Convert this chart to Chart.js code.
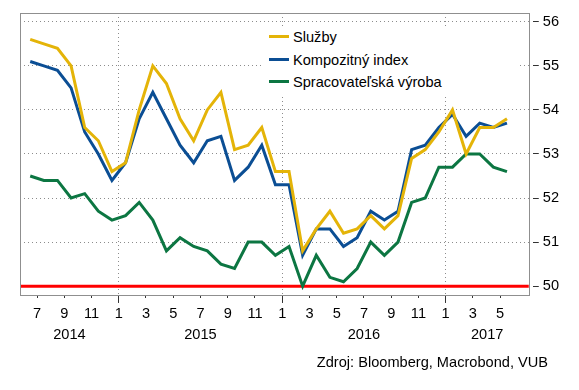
<!DOCTYPE html>
<html>
<head>
<meta charset="utf-8">
<script src="https://cdn.jsdelivr.net/npm/chart.js@4.4.1/dist/chart.umd.min.js"></script>
<style>
  html, body { margin: 0; padding: 0; background: #fff; }
  #wrap { position: relative; width: 579px; height: 390px; font-family: "Liberation Sans", Arial, sans-serif; color: #000; }
  #legend { position: absolute; left: 262px; top: 27px; width: 258px; height: 70px; background: #fff; }
  #legend .item { position: absolute; left: 31px; font-size: 14.6px; line-height: 16px; white-space: nowrap; }
  #legend .sw { position: absolute; left: -24px; top: 6px; width: 20px; height: 3px; }
  #source { position: absolute; right: 31px; top: 354px; font-size: 14.6px; line-height: 16px; }
</style>
</head>
<body>
<div id="wrap">
  <canvas id="pmi" width="579" height="390"></canvas>
  <div id="legend"></div>
  <div id="source">Zdroj: Bloomberg, Macrobond, VUB</div>
</div>
<script>
// monthly PMI readings, Jun 2014 - May 2017
var months = ['2014-06','2014-07','2014-08','2014-09','2014-10','2014-11','2014-12',
  '2015-01','2015-02','2015-03','2015-04','2015-05','2015-06','2015-07','2015-08','2015-09','2015-10','2015-11','2015-12',
  '2016-01','2016-02','2016-03','2016-04','2016-05','2016-06','2016-07','2016-08','2016-09','2016-10','2016-11','2016-12',
  '2017-01','2017-02','2017-03','2017-04','2017-05'];

var sluzby = [55.6, 55.5, 55.4, 55.0, 53.6, 53.3, 52.6, 52.8, 54.0, 55.0, 54.6, 53.8,
  53.3, 54.0, 54.4, 53.1, 53.2, 53.6, 52.6, 52.6, 50.8, 51.3, 51.7, 51.2,
  51.3, 51.6, 51.3, 51.6, 52.9, 53.1, 53.5, 54.0, 53.0, 53.6, 53.6, 53.8];
var kompozit = [55.1, 55.0, 54.9, 54.5, 53.5, 53.0, 52.4, 52.8, 53.8, 54.4, 53.8, 53.2,
  52.8, 53.3, 53.4, 52.4, 52.7, 53.2, 52.3, 52.3, 50.7, 51.3, 51.3, 50.9,
  51.1, 51.7, 51.5, 51.7, 53.1, 53.2, 53.6, 53.9, 53.4, 53.7, 53.6, 53.7];
var vyroba = [52.5, 52.4, 52.4, 52.0, 52.1, 51.7, 51.5, 51.6, 51.9, 51.5, 50.8, 51.1,
  50.9, 50.8, 50.5, 50.4, 51.0, 51.0, 50.7, 50.9, 50.0, 50.7, 50.2, 50.1,
  50.4, 51.0, 50.7, 51.0, 51.9, 52.0, 52.7, 52.7, 53.0, 53.0, 52.7, 52.6];

var seriesNames = ['Služby', 'Kompozitný index', 'Spracovateľská výroba'];
var seriesColors = ['#e4b408', '#0b4e94', '#0c7642'];
var yTicks = [50, 51, 52, 53, 54, 55, 56];
var threshold = 50;

var X_MIN = -0.75, X_MAX = 36.6;
var FONT = { family: '"Liberation Sans", Arial, sans-serif', size: 14.6 };

var monthNum = months.map(function (m) { return +m.slice(5); });
var yearOf = months.map(function (m) { return m.slice(0, 4); });

// a tick at the start of every odd month
var monthTicks = [];
monthNum.forEach(function (m, i) {
  if (m % 2 === 1) monthTicks.push({ value: i - 0.5, label: String(m), jan: m === 1 });
});

// year labels sit in the middle of the visible part of each year
var yearTicks = [];
yearOf.forEach(function (y, i) {
  if (i > 0 && yearOf[i - 1] === y) return;
  var start = i - (monthNum[i] - 1) - 0.5;
  var a = Math.max(X_MIN, start), b = Math.min(X_MAX, start + 12);
  yearTicks.push({ value: (a + b) / 2, label: y });
});

function pts(arr) { return arr.map(function (v, i) { return { x: i, y: v }; }); }

var redLine = {
  id: 'redLine',
  beforeDatasetsDraw: function (chart) {
    var ctx = chart.ctx, a = chart.chartArea;
    var y = chart.scales.y.getPixelForValue(threshold);
    ctx.save();
    ctx.strokeStyle = '#ff0000';
    ctx.lineWidth = 3;
    ctx.beginPath();
    ctx.moveTo(a.left, y);
    ctx.lineTo(a.right, y);
    ctx.stroke();
    ctx.restore();
  }
};

var frame = {
  id: 'frame',
  afterDatasetsDraw: function (chart) {
    var ctx = chart.ctx, a = chart.chartArea;
    ctx.save();
    ctx.strokeStyle = '#8f8f8f';
    ctx.lineWidth = 1;
    ctx.strokeRect(Math.round(a.left) + 0.5, Math.round(a.top) + 0.5,
      Math.round(a.right - a.left), Math.round(a.bottom - a.top));
    ctx.restore();
  }
};

// first dataset is drawn on top: yellow over blue over green
var datasets = [sluzby, kompozit, vyroba].map(function (d, k) {
  return {
    label: seriesNames[k],
    data: pts(d),
    borderColor: seriesColors[k],
    borderWidth: 3,
    pointRadius: 0,
    tension: 0,
    fill: false
  };
});

new Chart(document.getElementById('pmi'), {
  type: 'line',
  data: { datasets: datasets },
  options: {
    responsive: false,
    animation: false,
    devicePixelRatio: 1,
    layout: { padding: { left: 20, top: 13, right: 16, bottom: 44 } },
    plugins: { legend: { display: false }, tooltip: { enabled: false } },
    scales: {
      x: {
        type: 'linear', position: 'bottom', weight: 0,
        min: X_MIN, max: X_MAX,
        afterBuildTicks: function (s) { s.ticks = monthTicks.map(function (t) { return { value: t.value }; }); },
        ticks: {
          autoSkip: false, maxRotation: 0, padding: 2, color: '#000', font: FONT,
          callback: function (v, i) { return monthTicks[i].label; }
        },
        grid: {
          color: function (c) { return monthTicks[c.index] && monthTicks[c.index].jan ? '#8c8c8c' : 'rgba(0,0,0,0)'; },
          lineWidth: 1,
          tickLength: 8,
          tickColor: '#333',
          tickBorderDash: function (c) { return monthTicks[c.index] && monthTicks[c.index].jan ? [] : [3, 20]; }
        },
        border: { display: false, dash: [1, 3] }
      },
      x2: {
        type: 'linear', position: 'bottom', weight: 1,
        min: X_MIN, max: X_MAX,
        afterBuildTicks: function (s) { s.ticks = yearTicks.map(function (t) { return { value: t.value }; }); },
        ticks: {
          autoSkip: false, maxRotation: 0, padding: 2, color: '#000', font: FONT,
          callback: function (v, i) { return yearTicks[i].label; }
        },
        grid: { display: false, drawTicks: false },
        border: { display: false }
      },
      y: {
        position: 'right',
        min: 49.8, max: 56.2,
        afterBuildTicks: function (s) { s.ticks = yTicks.map(function (v) { return { value: v }; }); },
        ticks: { padding: 4, color: '#000', font: FONT },
        grid: {
          color: function (c) { return c.tick && c.tick.value === threshold ? 'rgba(0,0,0,0)' : '#8c8c8c'; },
          lineWidth: 1,
          tickLength: 10,
          tickColor: '#333',
          tickBorderDash: [0, 4, 6, 100]
        },
        border: { display: false, dash: [1, 3] }
      }
    }
  },
  plugins: [redLine, frame]
});

// legend in the white box inside the plot
var legend = document.getElementById('legend');
seriesNames.forEach(function (name, k) {
  var item = document.createElement('div');
  item.className = 'item';
  item.style.top = (2 + k * 22.5) + 'px';
  var sw = document.createElement('span');
  sw.className = 'sw';
  sw.style.background = seriesColors[k];
  item.appendChild(sw);
  item.appendChild(document.createTextNode(name));
  legend.appendChild(item);
});
</script>
</body>
</html>
